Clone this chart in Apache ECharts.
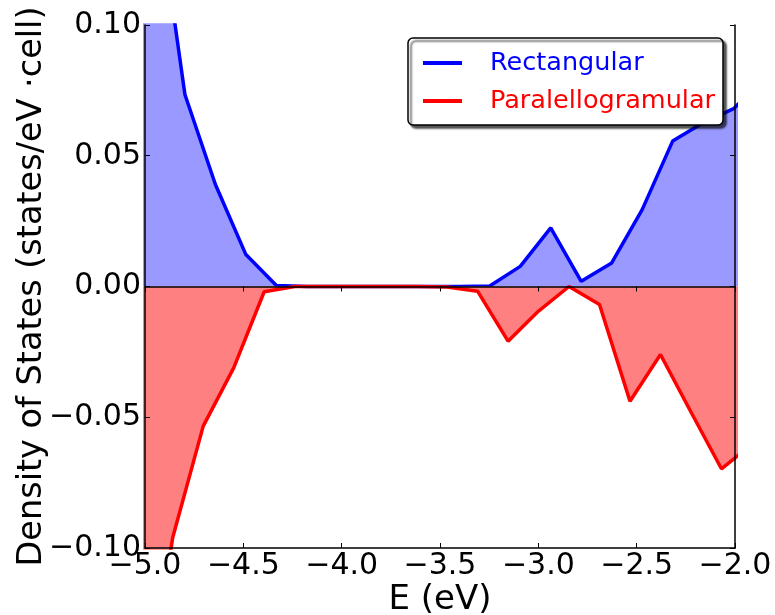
<!DOCTYPE html>
<html>
<head>
<meta charset="utf-8">
<script src="https://cdn.jsdelivr.net/npm/echarts@6/dist/echarts.min.js"></script>
<style>
  html, body { margin: 0; padding: 0; background: #fff; }
  #chart { width: 775px; height: 615px; }
</style>
</head>
<body>
<div id="chart"></div>
<script>
// energies (eV) and density of states
var eRect = [-5.107, -4.952, -4.797, -4.642, -4.487, -4.332, -4.177, -4.022, -3.867, -3.712, -3.557, -3.402,
             -3.247, -3.092, -2.937, -2.782, -2.627, -2.472, -2.317, -2.162, -2.007, -1.852];
var dosRect = [0.24, 0.156, 0.0734, 0.039, 0.0122, 0.0004, 0, 0, 0, 0, 0, 0,
               0.0002, 0.0077, 0.0224, 0.002, 0.009, 0.0294, 0.0556, 0.0626, 0.068, 0.08];

var ePara = [-5.014, -4.859, -4.704, -4.549, -4.394, -4.239, -4.084, -3.929, -3.774, -3.619, -3.464,
             -3.309, -3.154, -2.999, -2.844, -2.689, -2.534, -2.379, -2.224, -2.069, -1.914];
var dosPara = [-0.17, -0.096, -0.0534, -0.0311, -0.002, 0, 0, 0, 0, 0, -0.0002,
               -0.0018, -0.0209, -0.0094, 0, -0.0069, -0.0439, -0.026, -0.048, -0.0697, -0.0603];

var seriesNames = ['Rectangular', 'Paralellogramular'];

function pairs(xs, ys) {
  return xs.map(function (x, i) { return [x, ys[i]]; });
}

function minus(s) {
  return s.replace('-', '\u2212');
}

var font = 'DejaVu Sans';

var chart = echarts.init(document.getElementById('chart'));

chart.setOption({
  animation: false,
  textStyle: { fontFamily: font },
  grid: { left: 145, top: 25, right: 40, bottom: 67, outerBoundsMode: 'none' },
  legend: {
    left: 408,
    top: 38,
    orient: 'vertical',
    icon: 'rect',
    itemWidth: 39,
    itemHeight: 4,
    itemGap: 12,
    padding: [12, 8, 11, 15],
    backgroundColor: '#fff',
    borderColor: '#000',
    borderWidth: 1.5,
    borderRadius: 5,
    shadowColor: 'rgba(0,0,0,0.65)',
    shadowBlur: 2,
    shadowOffsetX: 3,
    shadowOffsetY: 3,
    textStyle: { fontFamily: font, fontSize: 25.5, lineHeight: 25, padding: [0, 0, 0, 23] },
    data: [
      { name: seriesNames[0], textStyle: { color: '#0000ff' } },
      { name: seriesNames[1], textStyle: { color: '#ff0000' } }
    ]
  },
  xAxis: [{
    type: 'value',
    min: -5,
    max: -2,
    interval: 0.5,
    z: 10,
    name: 'E (eV)',
    nameLocation: 'middle',
    nameGap: 35,
    nameMoveOverlap: false,
    nameTextStyle: { fontFamily: font, fontSize: 34, color: '#000' },
    axisLine: { show: true, onZero: false, lineStyle: { color: '#000', width: 1.5 } },
    axisTick: { show: true, inside: true, length: 5, lineStyle: { color: '#000' } },
    axisLabel: {
      fontFamily: font, fontSize: 30, color: '#000', margin: 3,
      formatter: function (v) { return minus(v.toFixed(1)); }
    },
    splitLine: { show: false }
  }, {
    type: 'value',
    position: 'top',
    min: -5,
    max: -2,
    interval: 0.5,
    z: 10,
    axisLine: { show: true, lineStyle: { color: '#000', width: 1.5 } },
    axisTick: { show: true, inside: true, length: 5, lineStyle: { color: '#000' } },
    axisLabel: { show: false },
    splitLine: { show: false }
  }],
  yAxis: [{
    type: 'value',
    min: -0.1,
    max: 0.1,
    interval: 0.05,
    z: 10,
    name: 'Density of States (states/eV \u00b7cell)',
    nameLocation: 'middle',
    nameGap: 96,
    nameMoveOverlap: false,
    nameTextStyle: { fontFamily: font, fontSize: 33.5, color: '#000' },
    axisLine: { show: true, onZero: false, lineStyle: { color: '#000', width: 1.5 } },
    axisTick: { show: true, inside: true, length: 5, lineStyle: { color: '#000' } },
    axisLabel: {
      fontFamily: font, fontSize: 30, color: '#000', margin: 4,
      formatter: function (v) { return minus(v.toFixed(2)); }
    },
    splitLine: { show: false }
  }, {
    type: 'value',
    position: 'right',
    min: -0.1,
    max: 0.1,
    interval: 0.05,
    z: 10,
    axisLine: { show: true, lineStyle: { color: '#000', width: 1.5 } },
    axisTick: { show: true, inside: true, length: 5, lineStyle: { color: '#000' } },
    axisLabel: { show: false },
    splitLine: { show: false }
  }],
  series: [{
    name: seriesNames[0],
    type: 'line',
    data: pairs(eRect, dosRect),
    showSymbol: false,
    clip: true,
    z: 2,
    itemStyle: { color: '#0000ff' },
    lineStyle: { color: '#0000ff', width: 3.5 },
    areaStyle: { color: '#9999ff', opacity: 1, origin: 0 }
  }, {
    name: seriesNames[1],
    type: 'line',
    data: pairs(ePara, dosPara),
    showSymbol: false,
    clip: true,
    z: 3,
    itemStyle: { color: '#ff0000' },
    lineStyle: { color: '#ff0000', width: 3.5 },
    areaStyle: { color: '#ff8080', opacity: 1, origin: 0 }
  }]
});
</script>
</body>
</html>
